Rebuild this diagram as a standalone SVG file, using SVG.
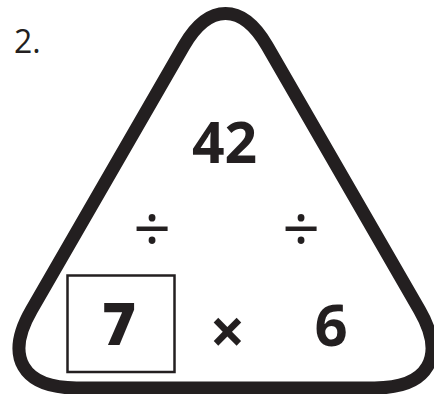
<svg xmlns="http://www.w3.org/2000/svg" width="434" height="394" viewBox="0 0 434 394">
<style>
.t{font-family:"Open Sans","Liberation Sans",sans-serif;fill:#231f20;text-anchor:middle}
.shape{fill:none;stroke:#231f20}
</style>
<rect x="0" y="0" width="434" height="394" fill="#ffffff"/>
<text id="label" x="14" y="53" style="font-family:'Open Sans','Liberation Sans',sans-serif;fill:#231f20;font-size:32px">2.</text>
<g id="triangle">
<path class="shape" stroke-width="13" d="M 183.8 46 C 208.8 2.7 242.2 2.7 267.2 46 L 419.5 310.1 C 446.5 356.9 428.5 388 374.5 388 L 76.5 388 C 22.5 388 4.5 356.9 31.5 310.1 Z"/>
</g>
<g id="top"><text class="t" x="224.5" y="163" font-size="57" font-weight="700">42</text></g>
<g id="divL"><text class="t" x="152" y="252" font-size="66">÷</text></g>
<g id="divR"><text class="t" x="301" y="252" font-size="66">÷</text></g>
<g id="box">
<rect class="shape" x="67.5" y="275.5" width="107" height="96.5" stroke-width="2.5"/>
<text class="t" x="119" y="345" font-size="58" font-weight="800">7</text>
</g>
<g id="times"><text class="t" x="227.5" y="354" font-size="62" font-weight="700">×</text></g>
<g id="right"><text class="t" x="331" y="346" font-size="58" font-weight="700">6</text></g>
</svg>
